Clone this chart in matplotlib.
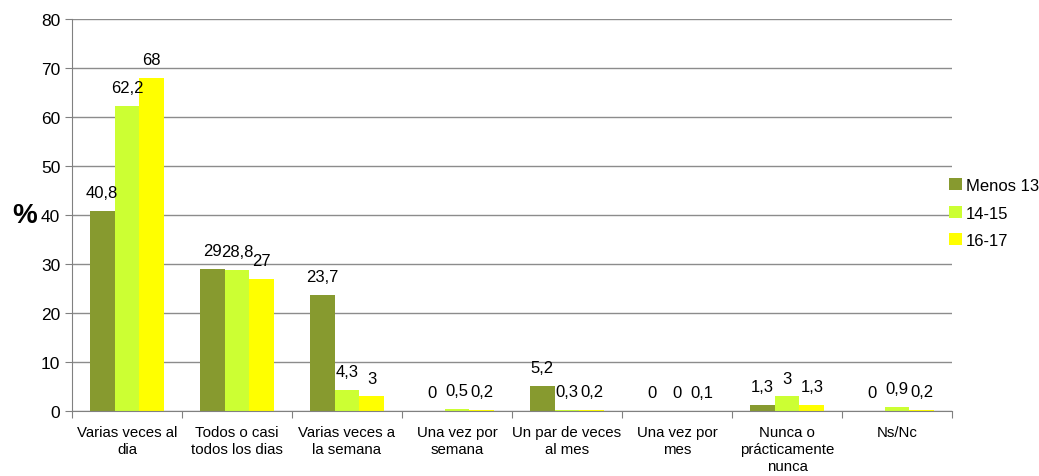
import matplotlib
matplotlib.use('Agg')
import matplotlib.pyplot as plt
import numpy as np

plt.rcParams['font.family'] = ['Liberation Sans', 'DejaVu Sans']

# categories and series
categories = ["Varias veces al\ndia", "Todos o casi\ntodos los dias", "Varias veces a\nla semana",
              "Una vez por\nsemana", "Un par de veces\nal mes", "Una vez por\nmes",
              "Nunca o\nprácticamente\nnunca", "Ns/Nc"]
series_names = ["Menos 13", "14-15", "16-17"]
menos13 = [40.8, 29, 23.7, 0, 5.2, 0, 1.3, 0]
edad14_15 = [62.2, 28.8, 4.3, 0.5, 0.3, 0, 3, 0.9]
edad16_17 = [68, 27, 3, 0.2, 0.2, 0.1, 1.3, 0.2]
colors = ["#879A2F", "#CCFF33", "#FFFF00"]

fig = plt.figure(figsize=(10.39, 4.77), dpi=100)
ax = fig.add_axes([72 / 1039, 65 / 477, 880 / 1039, 392 / 477])

x = np.arange(len(categories))
width = 0.225
for i, (vals, name, col) in enumerate(zip([menos13, edad14_15, edad16_17], series_names, colors)):
    pos = x + (i - 1) * width
    ax.bar(pos, vals, width=width, color=col, label=name, zorder=2)
    for p, v in zip(pos, vals):
        txt = ("%g" % v).replace('.', ',')
        ax.text(p, v + 2.2, txt, ha='center', va='bottom', fontsize=12, zorder=3)

ax.set_xlim(-0.5, len(categories) - 0.5)
ax.set_ylim(0, 80)
ax.set_yticks(range(0, 81, 10))
ax.yaxis.grid(True, color='#8c8c8c', linewidth=1, zorder=0)
ax.set_axisbelow(True)
ax.set_xticks(np.arange(len(categories) + 1) - 0.5, minor=False)
ax.set_xticklabels([])
ax.set_xticks(x, minor=True)
ax.set_xticklabels(categories, minor=True, fontsize=10.8, linespacing=1.28)
ax.tick_params(axis='x', which='minor', length=0, pad=10)
ax.tick_params(axis='x', which='major', length=5, color='#808080')
ax.tick_params(axis='y', length=5, color='#808080', labelsize=12.5)
for s in ['top', 'right']:
    ax.spines[s].set_visible(False)
for s in ['left', 'bottom']:
    ax.spines[s].set_color('#808080')

ax.set_ylabel('%', rotation=0, fontsize=20, fontweight='bold', labelpad=12, va='center')

ax.legend(loc='center left', bbox_to_anchor=(0.997, 0.505), frameon=False, fontsize=12,
          borderaxespad=0, borderpad=0,
          handlelength=0.75, handleheight=0.75, handletextpad=0.25, labelspacing=0.75)

fig.savefig('out.png', dpi=100)
